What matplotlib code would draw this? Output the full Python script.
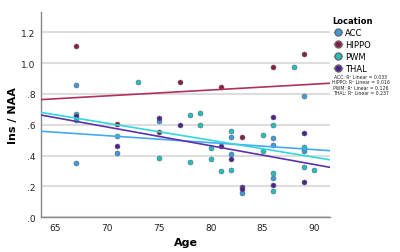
import numpy as np
import matplotlib
matplotlib.use('Agg')
import matplotlib.pyplot as plt
from matplotlib.lines import Line2D

# datos
locations = ['ACC', 'HIPPO', 'PWM', 'THAL']
r2_text = ['ACC: R² Linear = 0.033', 'HIPPO: R² Linear = 0.016',
           'PWM: R² Linear = 0.126', 'THAL: R² Linear = 0.237']

acc_age = [67, 67, 71, 75, 82, 82, 83, 86, 86, 86, 89, 89, 89]
acc_val = [0.86, 0.35, 0.415, 0.625, 0.52, 0.41, 0.16, 0.512, 0.47, 0.255, 0.789, 0.443, 0.428]

hippo_age = [67, 71, 75, 77, 81, 83, 86, 89]
hippo_val = [1.11, 0.607, 0.55, 0.877, 0.847, 0.518, 0.977, 1.06]

pwm_age = [67, 67, 71, 73, 75, 78, 78, 79, 79, 80, 80, 81, 82, 82, 85, 85, 86, 86, 86, 88, 89, 89, 90]
pwm_val = [0.67, 0.633, 0.53, 0.877, 0.383, 0.663, 0.36, 0.675, 0.6, 0.45, 0.378, 0.30, 0.558, 0.305,
           0.536, 0.43, 0.6, 0.29, 0.173, 0.977, 0.454, 0.326, 0.305]

thal_age = [67, 71, 75, 77, 81, 82, 83, 83, 86, 86, 89, 89]
thal_val = [0.655, 0.46, 0.645, 0.6, 0.46, 0.376, 0.195, 0.185, 0.65, 0.207, 0.549, 0.227]

# rectas de ajuste (valor en los extremos del eje x)
fit_x = [63.65, 91.5]
acc_fit = [0.558, 0.432]
hippo_fit = [0.763, 0.869]
pwm_fit = [0.68, 0.373]
thal_fit = [0.663, 0.324]

y_ticks = [0, 0.2, 0.4, 0.6, 0.8, 1.0, 1.2]
y_ticklabels = ['.0', '.2', '.4', '.6', '.8', '1.0', '1.2']
x_ticks = [65, 70, 75, 80, 85, 90]

ages = [acc_age, hippo_age, pwm_age, thal_age]
vals = [acc_val, hippo_val, pwm_val, thal_val]
fits = [acc_fit, hippo_fit, pwm_fit, thal_fit]
point_colors = ['#3b9be0', '#8a1c48', '#1ec1c1', '#4a2390']
line_colors = ['#45a8f5', '#b0305e', '#30d8d8', '#5b33a8']

fig = plt.figure(figsize=(4, 2.53), dpi=100)
ax = fig.add_axes([0.1025, 0.137, 0.7225, 0.813])

for i in range(4):
    ax.scatter(ages[i], vals[i], s=13, color=point_colors[i], edgecolors='#666666',
               linewidths=0.4, zorder=3)
for i in range(4):
    ax.plot(fit_x, fits[i], color=line_colors[i], lw=1.2, zorder=4)

ax.set_xlim(63.65, 91.5)
ax.set_ylim(0, 1.333)
ax.set_yticks(y_ticks)
ax.set_yticklabels(y_ticklabels)
ax.set_xticks(x_ticks)
ax.tick_params(length=0, labelsize=6.5, colors='#222222', pad=4)
ax.grid(axis='y', color='#dddddd', lw=1.5)
ax.set_axisbelow(True)
for s in ['top', 'right']:
    ax.spines[s].set_visible(False)
for s in ['left', 'bottom']:
    ax.spines[s].set_color('#888888')
    ax.spines[s].set_linewidth(1.0)

ax.set_xlabel('Age', fontsize=8, fontweight='bold', labelpad=4)
ax.set_ylabel('Ins / NAA', fontsize=8, fontweight='bold', labelpad=2)

handles = [Line2D([0], [0], marker='o', color=line_colors[i], markerfacecolor=point_colors[i],
                  markeredgecolor='#666666', markersize=5, lw=1) for i in range(4)]
leg = fig.legend(handles, locations, title='Location', loc='upper left',
                 bbox_to_anchor=(0.822, 0.945), frameon=False, fontsize=6,
                 title_fontsize=6, handlelength=1.0, handletextpad=0.3,
                 labelspacing=0.35, borderaxespad=0)
leg.get_title().set_fontweight('bold')

fig.text(0.902, 0.705, '\n'.join(r2_text), fontsize=3.3, ha='center', va='top',
         linespacing=1.15, color='#222222')

plt.savefig('out.png', dpi=100)
